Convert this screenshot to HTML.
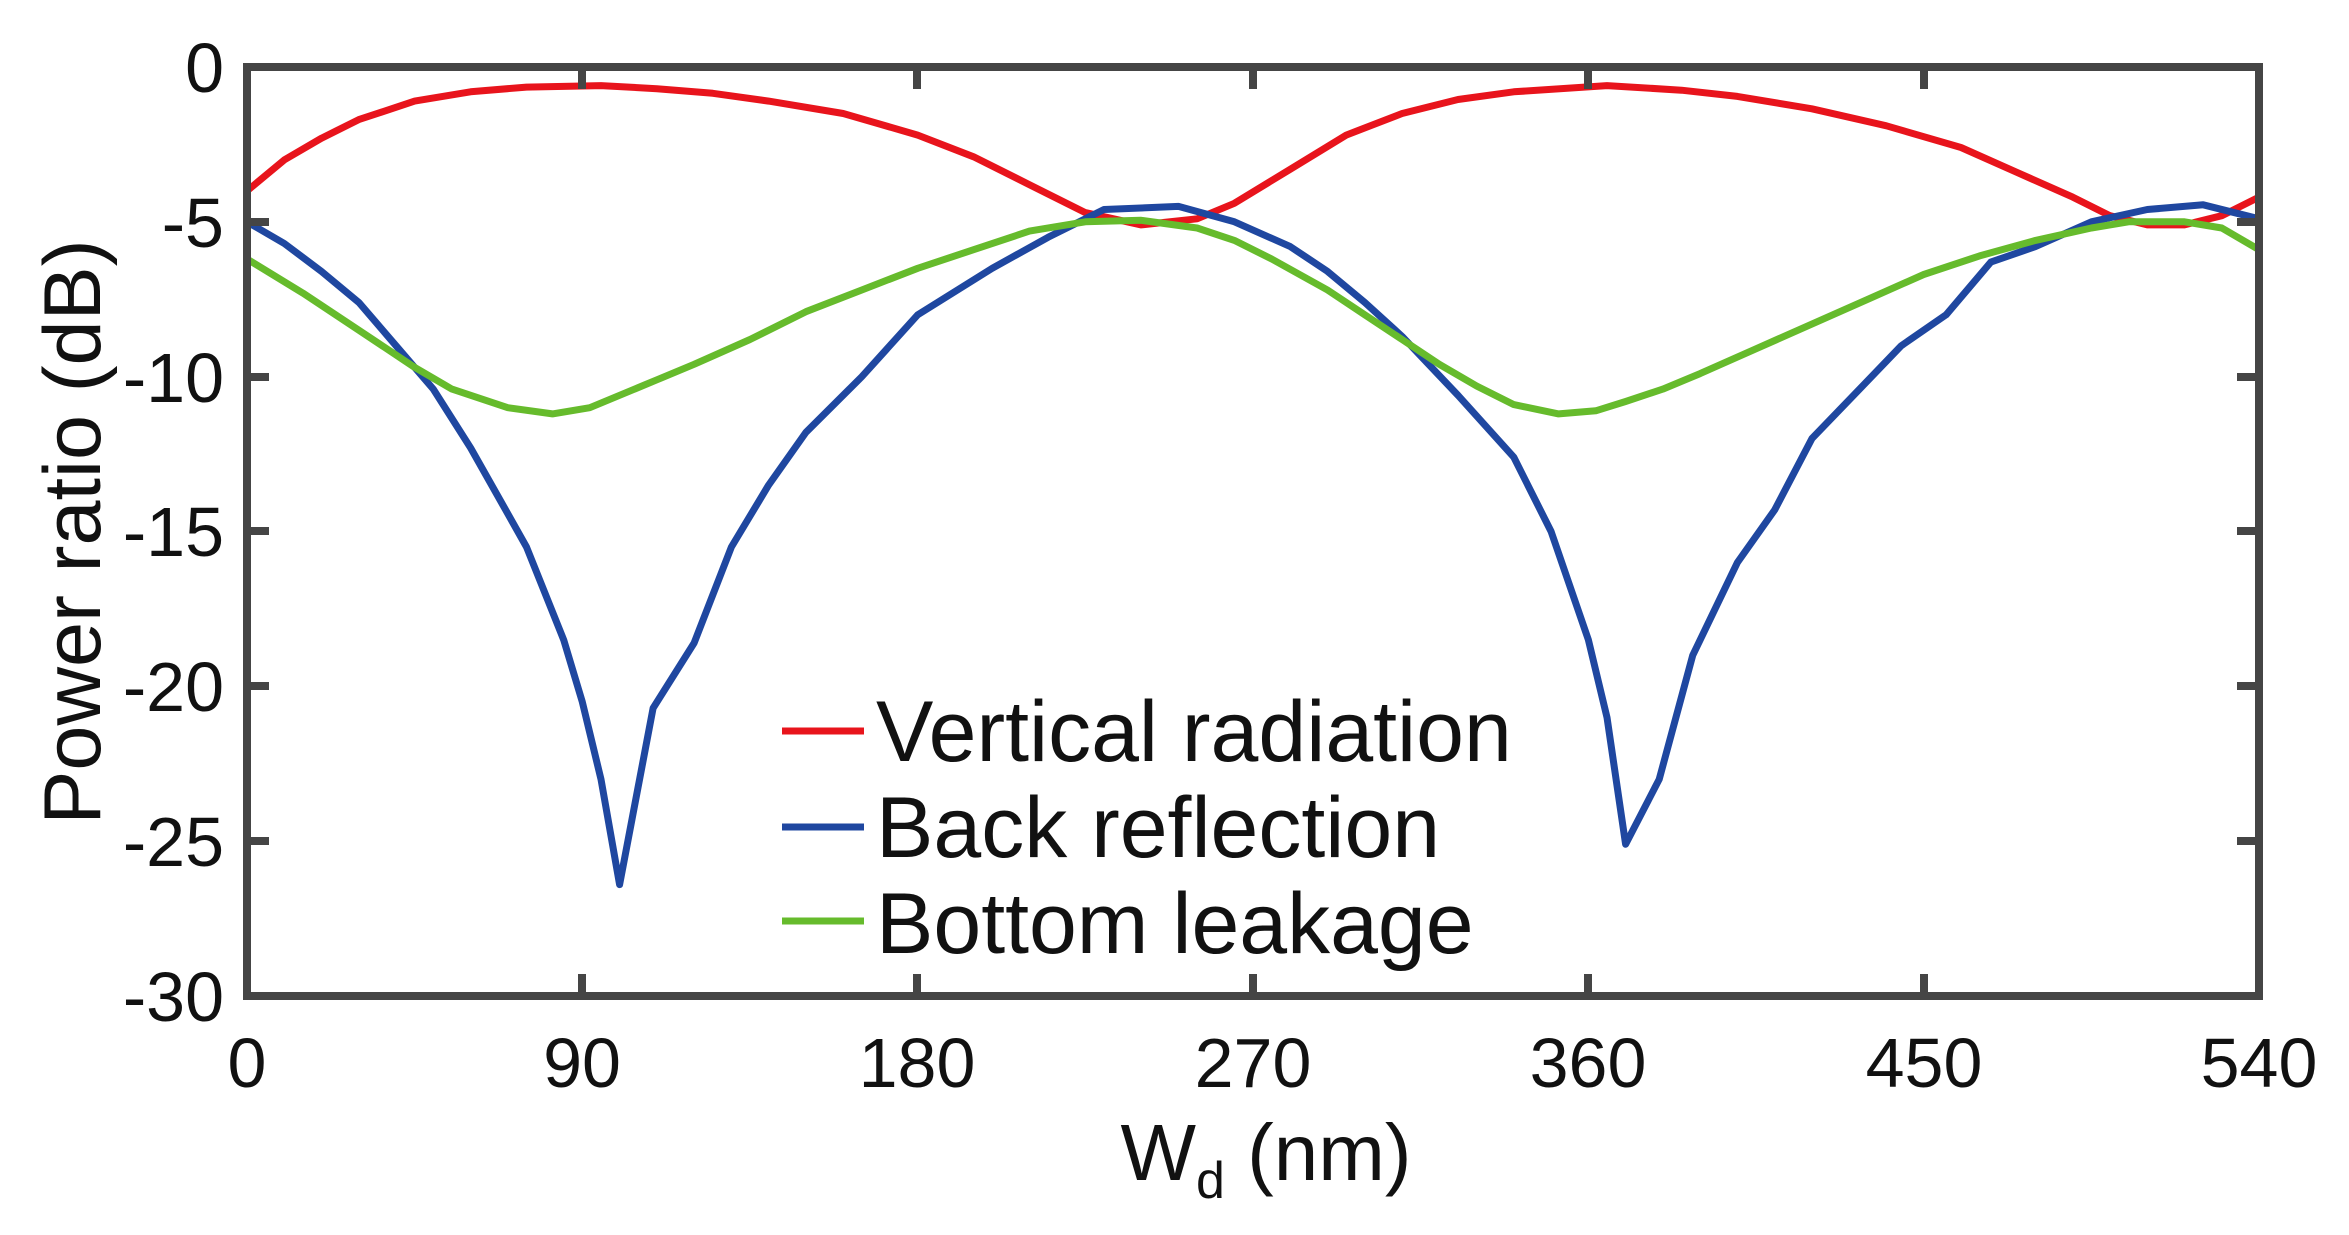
<!DOCTYPE html>
<html><head><meta charset="utf-8"><style>html,body{margin:0;padding:0;background:#fff}</style></head>
<body>
<svg id="s" width="2349" height="1230" viewBox="0 0 2349 1230" xmlns="http://www.w3.org/2000/svg" font-family="Liberation Sans, Arial, sans-serif">
<rect width="2349" height="1230" fill="#fff"/>
<polyline id="r" fill="none" stroke="#e8141c" stroke-width="7" stroke-linejoin="round" points=""/>
<polyline id="b" fill="none" stroke="#1f47a0" stroke-width="7" stroke-linejoin="round" points=""/>
<polyline id="g" fill="none" stroke="#66bb2c" stroke-width="7" stroke-linejoin="round" points=""/>
<g stroke="#454545" stroke-width="8" fill="none">
<rect x="247" y="67" width="2012" height="929"/>
<path d="M247,222h22M247,377h22M247,531h22M247,686h22M247,841h22M2259,222h-22M2259,377h-22M2259,531h-22M2259,686h-22M2259,841h-22"/>
<path d="M582,996v-22M917,996v-22M1253,996v-22M1588,996v-22M1924,996v-22M582,67v22M917,67v22M1253,67v22M1588,67v22M1924,67v22"/>
</g>
<g font-size="70" fill="#111" text-anchor="end">
<text x="224" y="92">0</text><text x="224" y="247">-5</text><text x="224" y="402">-10</text><text x="224" y="556">-15</text><text x="224" y="711">-20</text><text x="224" y="866">-25</text><text x="224" y="1021">-30</text>
</g>
<g font-size="70" fill="#111" text-anchor="middle">
<text x="247" y="1087">0</text><text x="582" y="1087">90</text><text x="917" y="1087">180</text><text x="1253" y="1087">270</text><text x="1588" y="1087">360</text><text x="1924" y="1087">450</text><text x="2259" y="1087">540</text>
</g>
<text x="1266" y="1180" font-size="80" text-anchor="middle" fill="#111">W<tspan font-size="52" dy="18">d</tspan><tspan dy="-18"> (nm)</tspan></text>
<text transform="translate(100,532) rotate(-90)" font-size="81" text-anchor="middle" fill="#111">Power ratio (dB)</text>
<g stroke-width="7">
<line x1="782" y1="731" x2="864" y2="731" stroke="#e8141c"/>
<line x1="782" y1="827" x2="864" y2="827" stroke="#1f47a0"/>
<line x1="782" y1="921" x2="864" y2="921" stroke="#66bb2c"/>
</g>
<g font-size="86" fill="#111">
<text x="876" y="761">Vertical radiation</text>
<text x="876" y="857">Back reflection</text>
<text x="876" y="953">Bottom leakage</text>
</g>
</svg>
<script>
var R=[0,-4,10,-3,20,-2.3,30,-1.7,45,-1.1,60,-0.8,75,-0.65,95,-0.6,110,-0.7,125,-0.85,140,-1.1,160,-1.5,180,-2.2,195,-2.9,210,-3.8,225,-4.7,240,-5.1,255,-4.9,265,-4.4,280,-3.3,295,-2.2,310,-1.5,325,-1.05,340,-0.8,365,-0.6,385,-0.75,400,-0.95,420,-1.35,440,-1.9,460,-2.6,475,-3.4,490,-4.2,500,-4.8,510,-5.1,520,-5.1,530,-4.8,540,-4.2];
var B=[0,-5,10,-5.7,20,-6.6,30,-7.6,40,-9,50,-10.4,60,-12.3,68,-14,75,-15.5,85,-18.5,90,-20.5,95,-23,100,-26.4,109,-20.7,120,-18.6,130,-15.5,140,-13.5,150,-11.8,165,-10,180,-8,200,-6.5,215,-5.5,230,-4.6,250,-4.5,265,-5,280,-5.8,290,-6.6,300,-7.6,310,-8.7,325,-10.6,340,-12.6,350,-15,360,-18.5,365,-21,370,-25.1,379,-23,388,-19,400,-16,410,-14.3,420,-12,432,-10.5,444,-9,456,-8,468,-6.3,480,-5.8,495,-5,510,-4.6,525,-4.45,540,-4.9];
var G=[0,-6.2,15,-7.3,30,-8.5,45,-9.7,55,-10.4,70,-11,82,-11.2,92,-11,100,-10.6,110,-10.1,120,-9.6,135,-8.8,150,-7.9,165,-7.2,180,-6.5,195,-5.9,210,-5.3,225,-5,240,-4.95,255,-5.2,265,-5.6,275,-6.2,290,-7.2,300,-8,310,-8.8,320,-9.6,330,-10.3,340,-10.9,352,-11.2,362,-11.1,370,-10.8,380,-10.4,390,-9.9,405,-9.1,420,-8.3,435,-7.5,450,-6.7,465,-6.1,480,-5.6,495,-5.2,505,-5,520,-5,530,-5.2,540,-5.9];
function P(a){var s=[];for(var i=0;i<a.length;i+=2){s.push((247+a[i]*3.726).toFixed(1)+','+(67-a[i+1]*30.97).toFixed(1));}return s.join(' ');}
document.getElementById('r').setAttribute('points',P(R));
document.getElementById('b').setAttribute('points',P(B));
document.getElementById('g').setAttribute('points',P(G));
</script>
</body></html>
